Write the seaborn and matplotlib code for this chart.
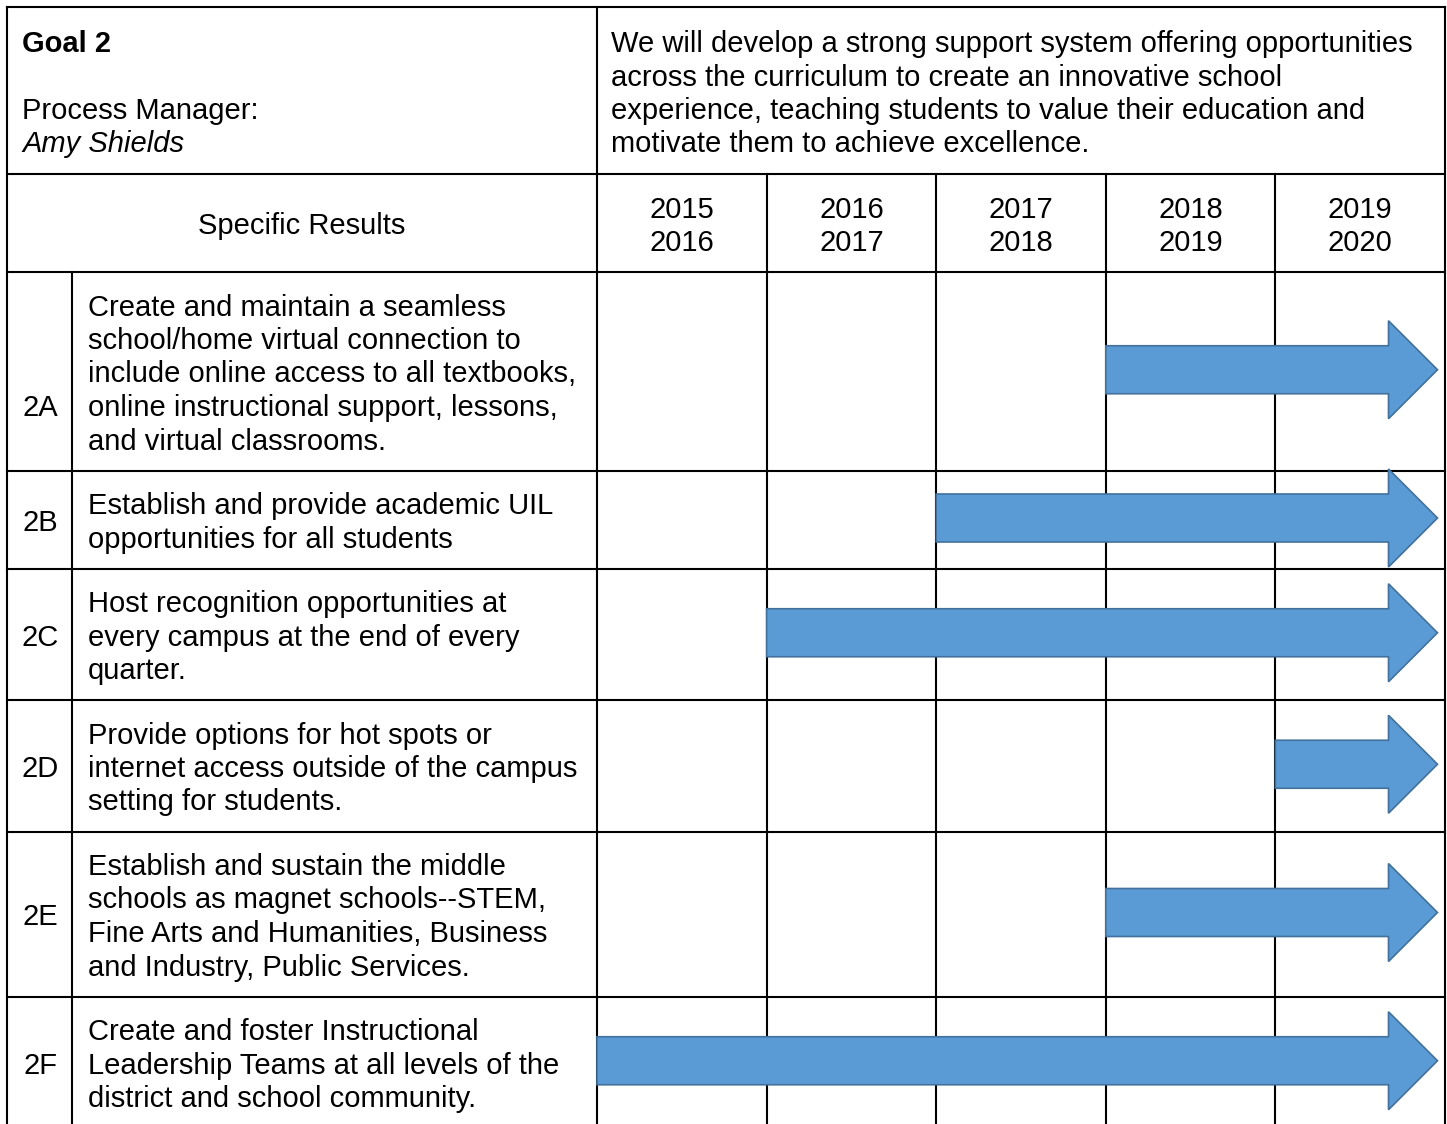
import matplotlib
matplotlib.use("Agg")
import matplotlib.pyplot as plt
from matplotlib.patches import FancyArrow
import seaborn as sns

# ---------------- data ----------------
goal_title = "Goal 2"
manager_label = "Process Manager:"
manager_name = "Amy Shields"
goal_statement = [
    "We will develop a strong support system offering opportunities",
    "across the curriculum to create an innovative school",
    "experience, teaching students to value their education and",
    "motivate them to achieve excellence.",
]
results_header = "Specific Results"
years = [("2015", "2016"), ("2016", "2017"), ("2017", "2018"),
         ("2018", "2019"), ("2019", "2020")]
codes = ["2A", "2B", "2C", "2D", "2E", "2F"]
descriptions = [
    ["Create and maintain a seamless", "school/home virtual connection to",
     "include online access to all textbooks,", "online instructional support, lessons,",
     "and virtual classrooms."],
    ["Establish and provide academic UIL", "opportunities for all students"],
    ["Host recognition opportunities at", "every campus at the end of every",
     "quarter."],
    ["Provide options for hot spots or", "internet access outside of the campus",
     "setting for students."],
    ["Establish and sustain the middle", "schools as magnet schools--STEM,",
     "Fine Arts and Humanities, Business", "and Industry, Public Services."],
    ["Create and foster Instructional", "Leadership Teams at all levels of the",
     "district and school community."],
]
start_year = ["2018", "2017", "2016", "2019", "2018", "2015"]

# ---------------- layout ----------------
W, H = 1447, 1124
sns.set_theme(style="white")
plt.rcParams["font.family"] = ["Liberation Sans", "DejaVu Sans"]
plt.rcParams["text.color"] = "black"
FS = 21
LINE = 33.5
PAD = 31
FIRST = 43.5
HEAD_FIRST = 52

fig = plt.figure(figsize=(W / 100, H / 100), dpi=100)
ax = fig.add_axes([0, 0, 1, 1])
ax.set_xlim(0, W)
ax.set_ylim(H, 0)
ax.axis("off")

left, right, top = 6.5, 1445, 7
split, code_div = 597, 72
head_bot, sub_bot = 174, 272
col_w = (right - split) / len(years)
col_left = [split + i * col_w for i in range(len(years) + 1)]

lw = 1.5
kw = dict(color="black", lw=lw, solid_capstyle="projecting", zorder=1)

# row boundaries
row_tops = [sub_bot]
for d in descriptions:
    row_tops.append(row_tops[-1] + len(d) * LINE + PAD)

# horizontal lines
for y in [top, head_bot, sub_bot] + row_tops[1:-1]:
    ax.plot([left, right], [y, y], **kw)
# vertical lines
ax.plot([left, left], [top, H + 5], **kw)
ax.plot([right, right], [top, H + 5], **kw)
ax.plot([split, split], [top, H + 5], **kw)
ax.plot([code_div, code_div], [sub_bot, H + 5], **kw)
for x in col_left[1:-1]:
    ax.plot([x, x], [head_bot, H + 5], **kw)

# header
ax.text(22, HEAD_FIRST, goal_title, fontsize=FS, fontweight="bold", va="baseline", ha="left")
ax.text(22, HEAD_FIRST + 2 * LINE, manager_label, fontsize=FS, va="baseline", ha="left")
ax.text(22, HEAD_FIRST + 3 * LINE, manager_name, fontsize=FS, style="italic", va="baseline", ha="left")
for i, line in enumerate(goal_statement):
    ax.text(611, HEAD_FIRST + i * LINE, line, fontsize=FS, va="baseline", ha="left")

# sub header
ax.text((left + split) / 2, 234, results_header, fontsize=FS, va="baseline", ha="center")
for i, (a, b) in enumerate(years):
    cx = (col_left[i] + col_left[i + 1]) / 2
    ax.text(cx, head_bot + FIRST, a, fontsize=FS, va="baseline", ha="center")
    ax.text(cx, head_bot + FIRST + LINE, b, fontsize=FS, va="baseline", ha="center")

# rows
code_line = [3, 0.5, 1, 1, 1.5, 1]
year_starts = [a for a, b in years]
for r, (code, desc) in enumerate(zip(codes, descriptions)):
    t = row_tops[r]
    for i, line in enumerate(desc):
        ax.text(88, t + FIRST + i * LINE, line, fontsize=FS, va="baseline", ha="left")
    ax.text((left + code_div) / 2 + 1, t + FIRST + code_line[r] * LINE, code,
            fontsize=FS, va="baseline", ha="center")
    # arrow
    cy = (t + row_tops[r + 1]) / 2 - 1.5
    x0 = col_left[year_starts.index(start_year[r])]
    tip = 1437.5
    arr = FancyArrow(x0, cy, tip - x0, 0, width=48, head_width=98, head_length=49,
                     length_includes_head=True, facecolor="#5B9BD5",
                     edgecolor="#41719C", linewidth=1.2, zorder=3)
    ax.add_patch(arr)

fig.savefig("out.png", dpi=100)
